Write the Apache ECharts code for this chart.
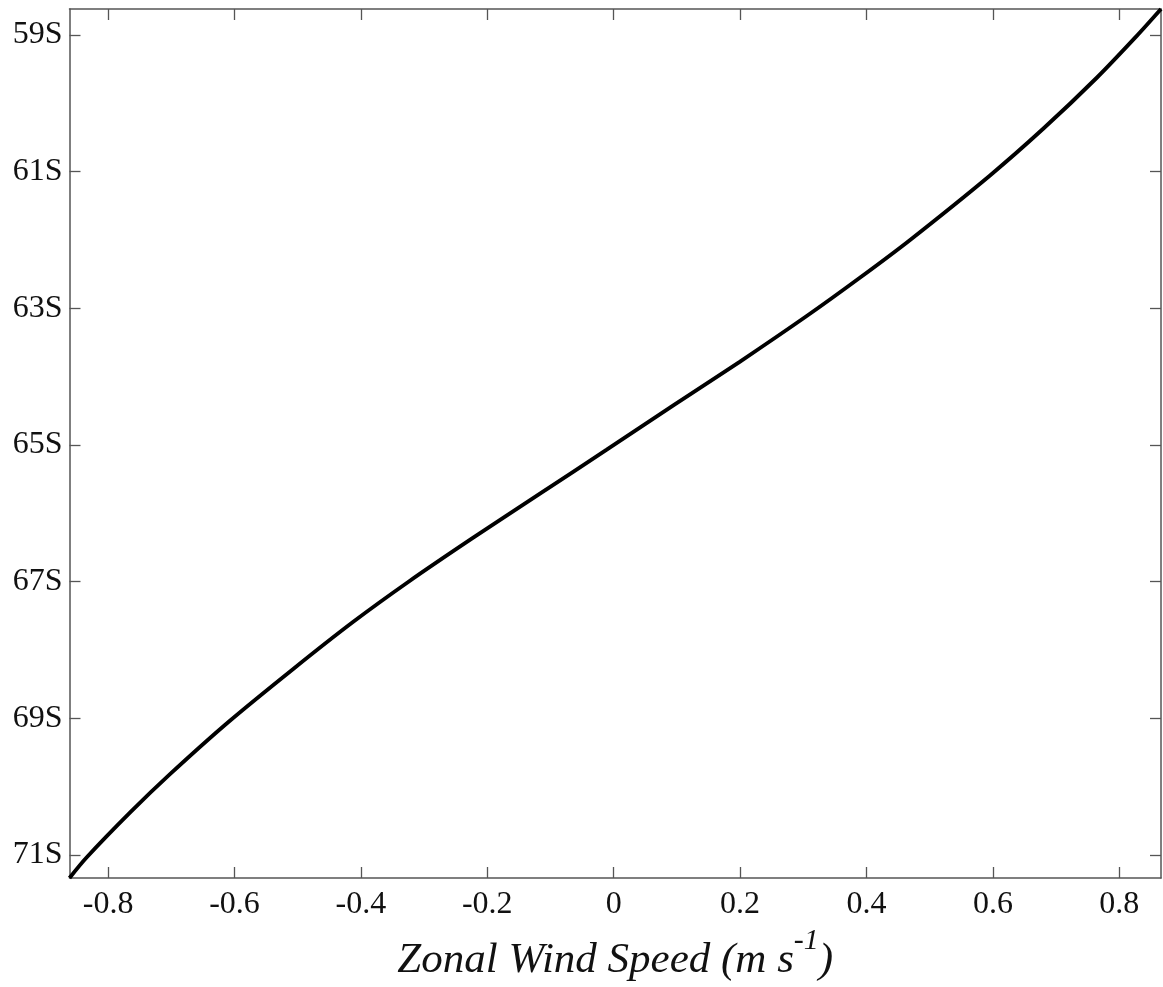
<!DOCTYPE html>
<html>
<head>
<meta charset="utf-8">
<script src="https://cdn.jsdelivr.net/npm/echarts@6/dist/echarts.min.js"></script>
<style>
  html, body { margin: 0; padding: 0; background: #fff; }
  #chart { width: 1163px; height: 987px; }
</style>
</head>
<body>
<div id="chart"></div>
<script>
// Zonal wind speed (m s-1)
const windSpeed = [-0.861, -0.834, -0.765, -0.702, -0.610, -0.507, -0.412, -0.324, -0.224, -0.116, -0.011, 0.095, 0.200, 0.306, 0.390, 0.469, 0.595, 0.680, 0.764, 0.827, 0.866];
// Latitude (degrees south) for each point
const latitudeS = [71.34, 71.04, 70.38, 69.82, 69.06, 68.28, 67.59, 67.00, 66.37, 65.71, 65.07, 64.42, 63.78, 63.11, 62.55, 62.00, 61.06, 60.37, 59.63, 59.02, 58.62];
// Tick values
const xTicks = [-0.8, -0.6, -0.4, -0.2, 0, 0.2, 0.4, 0.6, 0.8];
const yTicks = [59, 61, 63, 65, 67, 69, 71];
const xRange = [-0.861, 0.866];
const yRange = [58.62, 71.34];

const FONT = '"Liberation Serif", "Times New Roman", serif';
const AXIS_COLOR = '#555';

const points = windSpeed.map((w, i) => [w, latitudeS[i]]);

const chart = echarts.init(document.getElementById('chart'), null, { renderer: 'canvas' });

const commonLine = { show: true, onZero: false, lineStyle: { color: AXIS_COLOR, width: 1.5 } };
const commonTick = (vals) => ({ show: true, inside: true, length: 11, customValues: vals, lineStyle: { color: AXIS_COLOR, width: 1.3 } });

chart.setOption({
  animation: false,
  backgroundColor: '#fff',
  grid: { left: 69.5, right: 2, top: 9, bottom: 109, containLabel: false },
  xAxis: [
    {
      type: 'value', position: 'bottom', min: xRange[0], max: xRange[1],
      axisLine: commonLine,
      axisTick: commonTick(xTicks),
      splitLine: { show: false },
      axisLabel: {
        customValues: xTicks, margin: 11,
        fontFamily: FONT, fontSize: 32, color: '#111',
        formatter: v => (Math.abs(v) < 1e-9 ? '0' : v.toFixed(1))
      },
      name: '{t|Zonal Wind Speed (m s}{s|-1}{t|)}',
      nameLocation: 'middle',
      nameGap: 14,
      nameTextStyle: {
        rich: {
          t: { fontFamily: FONT, fontStyle: 'italic', fontSize: 43, color: '#111' },
          s: { fontFamily: FONT, fontStyle: 'italic', fontSize: 30, color: '#111', verticalAlign: 'top', padding: [0, 0, 39, 0] }
        }
      }
    },
    {
      type: 'value', position: 'top', min: xRange[0], max: xRange[1],
      axisLine: commonLine,
      axisTick: commonTick(xTicks),
      axisLabel: { show: false },
      splitLine: { show: false }
    }
  ],
  yAxis: [
    {
      type: 'value', position: 'left', inverse: true, min: yRange[0], max: yRange[1],
      axisLine: commonLine,
      axisTick: commonTick(yTicks),
      splitLine: { show: false },
      axisLabel: {
        customValues: yTicks, margin: 7,
        fontFamily: FONT, fontSize: 32, color: '#111',
        formatter: v => Math.round(v) + 'S'
      }
    },
    {
      type: 'value', position: 'right', inverse: true, min: yRange[0], max: yRange[1],
      axisLine: commonLine,
      axisTick: commonTick(yTicks),
      axisLabel: { show: false },
      splitLine: { show: false }
    }
  ],
  series: [
    {
      type: 'line',
      xAxisIndex: 0, yAxisIndex: 0,
      data: points,
      smooth: 0.3,
      showSymbol: false,
      symbol: 'none',
      clip: false,
      lineStyle: { color: '#000', width: 3.9 }
    }
  ]
});
</script>
</body>
</html>
